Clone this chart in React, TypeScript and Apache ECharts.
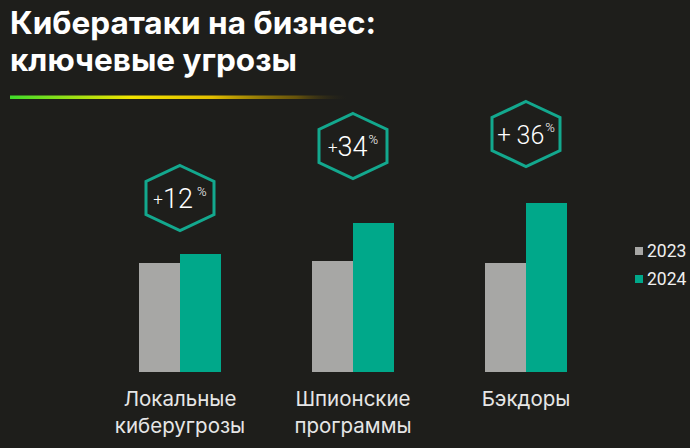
import React, { useEffect, useRef } from "react";
import * as echarts from "echarts";

const categories = ["Локальные\nкиберугрозы", "Шпионские\nпрограммы", "Бэкдоры"];
const seriesNames = ["2023", "2024"];
const values2023 = [109, 111, 109];
const values2024 = [118, 149, 169];
const badgeTexts = ["{p|+}{n|12}{s| %}", "{p|+}{n|34}{s|%}", "{q|+ }{m|36}{s|%}"];

// layout (annotation placement, in axis units)
const badgeLevels = [174, 226, 238];

const BG = "#1e1e1b";
const GRAY = "#a7a7a5";
const TEAL = "#00a88a";
const HEX = "#13a88e";

export default function App() {
  const ref = useRef<HTMLDivElement>(null);

  useEffect(() => {
    if (!ref.current) return;
    const chart = echarts.init(ref.current, null, { renderer: "svg" });
    const font = "Roboto, 'Noto Sans', sans-serif";
    const wide = "Inter, Roboto, sans-serif";

    const badgeData = badgeLevels.map((lv, i) => [i, lv]);

    chart.setOption({
      animation: false,
      backgroundColor: BG,
      textStyle: { fontFamily: font },
      title: {
        text: "Кибератаки на бизнес:\nключевые угрозы",
        left: 10,
        top: 4,
        padding: 0,
        textStyle: {
          color: "#ffffff",
          fontSize: 31.5,
          fontWeight: "bold",
          lineHeight: 37,
          fontFamily: wide,
        },
      },
      legend: {
        data: seriesNames,
        orient: "vertical",
        left: 635,
        top: 242,
        padding: 0,
        itemWidth: 8,
        itemHeight: 8,
        itemGap: 10,
        icon: "rect",
        textStyle: { color: "#efefef", fontSize: 17.5, fontFamily: font, padding: [0, 0, 0, -1] },
      },
      graphic: [
        {
          type: "rect",
          shape: { x: 10, y: 95.5, width: 337, height: 3.5 },
          style: {
            fill: new echarts.graphic.LinearGradient(0, 0, 1, 0, [
              { offset: 0, color: "#40dc2a" },
              { offset: 0.36, color: "#f2e400" },
              { offset: 0.6, color: "#e2be00" },
              { offset: 0.85, color: "rgba(150,118,0,0.6)" },
              { offset: 1, color: "rgba(30,30,27,0.1)" },
            ]),
          },
        },
      ],
      grid: { left: 93.5, width: 519, top: 100, bottom: 76 },
      xAxis: {
        type: "category",
        data: categories,
        axisLine: { show: false },
        axisTick: { show: false },
        axisLabel: {
          color: "#e6e6e6",
          fontSize: 20.5,
          lineHeight: 27,
          margin: 13,
          fontFamily: wide,
          interval: 0,
        },
      },
      yAxis: {
        type: "value",
        min: 0,
        max: 272,
        show: false,
        splitLine: { show: false },
      },
      series: [
        {
          name: seriesNames[0],
          type: "bar",
          data: values2023,
          barWidth: 41,
          barGap: "0%",
          itemStyle: { color: GRAY },
        },
        {
          name: seriesNames[1],
          type: "bar",
          data: values2024,
          barWidth: 41,
          barGap: "0%",
          itemStyle: { color: TEAL },
        },
        {
          type: "custom",
          data: badgeData,
          silent: true,
          renderItem: (params: any, api: any) => {
            const p = api.coord([api.value(0), api.value(1)]);
            const cx = p[0];
            const cy = p[1];
            const hw = 34;
            const hh = 32.5;
            const hs = 16.5;
            const idx = params.dataIndex;
            return {
              type: "group",
              children: [
                {
                  type: "polygon",
                  shape: {
                    points: [
                      [cx, cy - hh],
                      [cx + hw, cy - hs],
                      [cx + hw, cy + hs],
                      [cx, cy + hh],
                      [cx - hw, cy + hs],
                      [cx - hw, cy - hs],
                    ],
                  },
                  style: { fill: "none", stroke: HEX, lineWidth: 3 },
                },
                {
                  type: "text",
                  x: cx,
                  y: cy + 1,
                  style: {
                    text: badgeTexts[idx],
                    align: "center",
                    verticalAlign: "middle",
                    fontFamily: font,
                    fill: "#ffffff",
                    rich: {
                      p: { fontSize: 17, fill: "#ffffff", lineHeight: 30, verticalAlign: "middle", fontWeight: 300, fontFamily: font },
                      q: { fontSize: 24, fill: "#ffffff", lineHeight: 30, verticalAlign: "middle", fontWeight: 300, fontFamily: font },
                      n: { fontSize: 27, fill: "#ffffff", lineHeight: 30, verticalAlign: "middle", fontWeight: 300, fontFamily: font },
                      m: { fontSize: 25, fill: "#ffffff", lineHeight: 30, verticalAlign: "middle", fontWeight: 300, fontFamily: font },
                      s: { fontSize: 13, fill: "#ffffff", lineHeight: 30, verticalAlign: "top", fontWeight: 300, fontFamily: font, padding: [1, 0, 0, 1] },
                    },
                  },
                },
              ],
            };
          },
        },
      ],
    });

    return () => chart.dispose();
  }, []);

  return <div ref={ref} style={{ width: 690, height: 448, position: "absolute", left: 0, top: 0 }} />;
}
